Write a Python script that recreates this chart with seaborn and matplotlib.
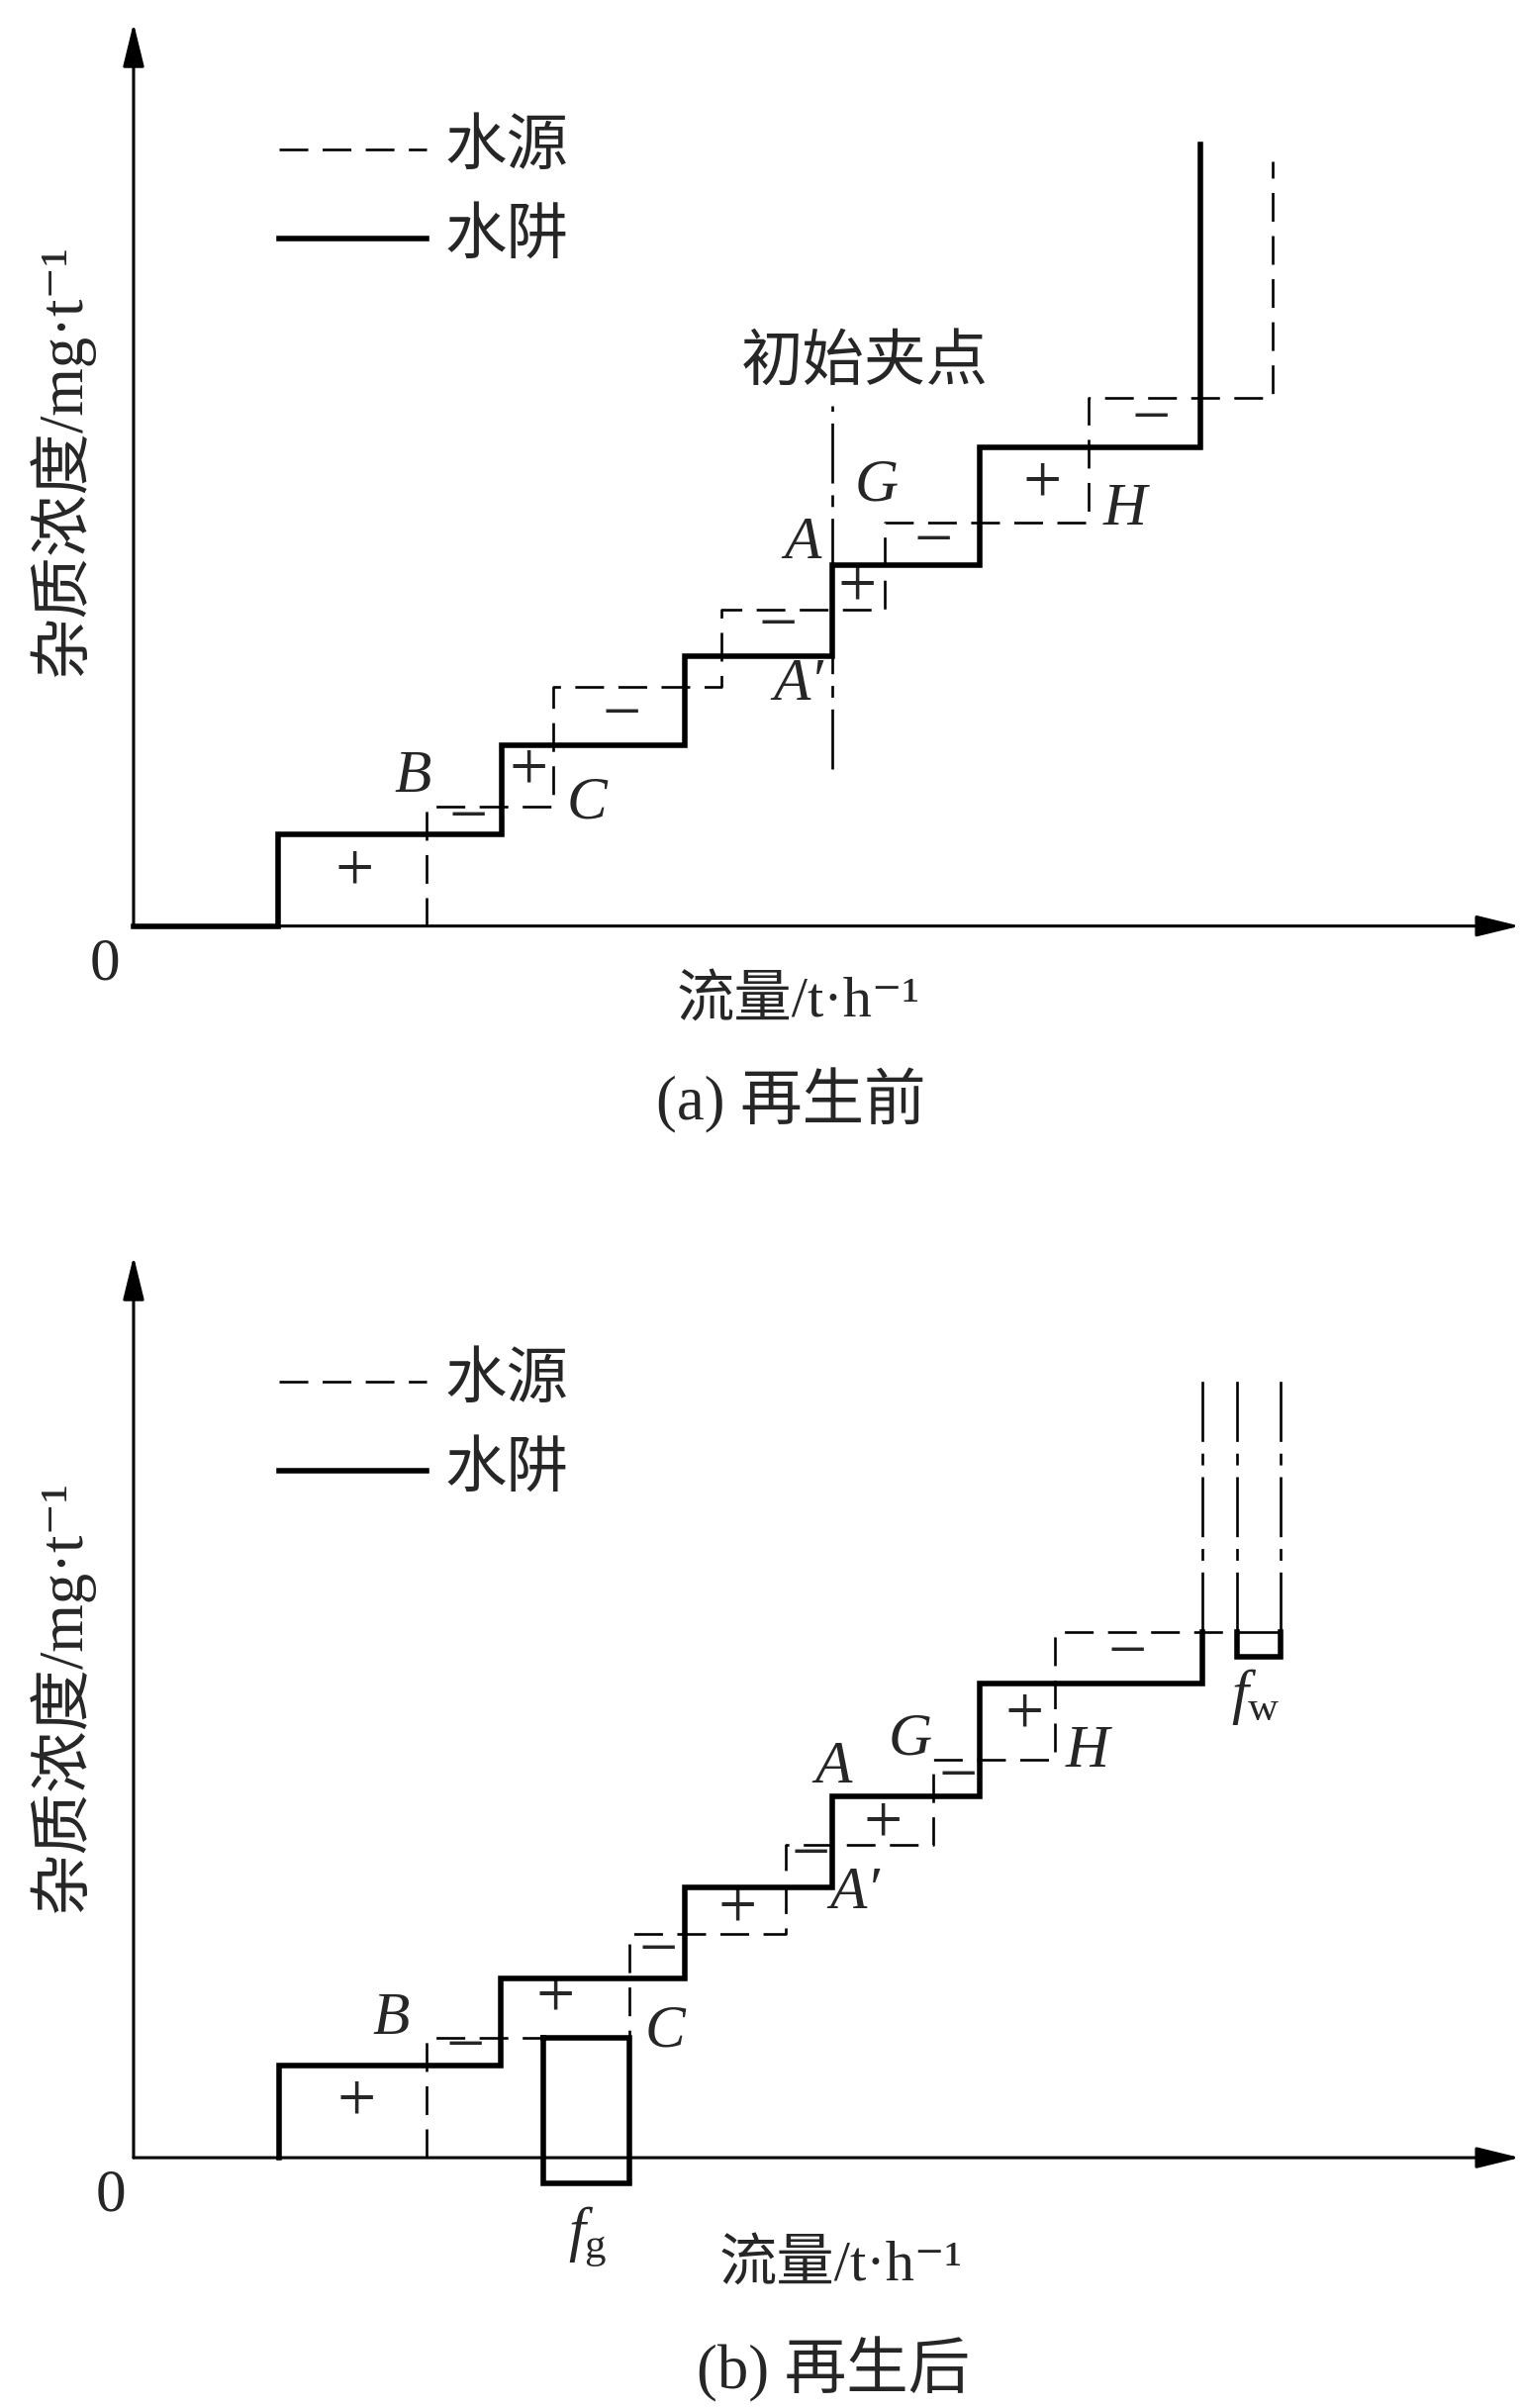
import matplotlib
matplotlib.use("Agg")
import matplotlib.pyplot as plt
import seaborn as sns
import pandas as pd

# ---------------- data (schematic units: flow t/h, concentration mg/t) ----------------
# (a) before regeneration
a_sink_flow = [0.0, 9.4, 24.0, 35.9, 45.5, 55.1, 69.5]
a_sink_conc = [0.0, 6.0, 11.8, 17.6, 23.5, 31.2]
a_sink_top = 50.9
a_src_flow = [0.0, 19.1, 27.3, 38.3, 48.9, 62.2, 74.2]
a_src_conc = [0.0, 7.8, 15.6, 20.6, 26.3, 34.4]
a_src_top = 49.8
a_pinch_flow = 45.5
a_pinch_conc = [10.2, 33.9]
a_sign_text = ["+", "−", "+", "−", "−", "+", "−", "+", "−"]
a_sign_flow = [14.4, 21.8, 25.7, 31.8, 42.0, 47.1, 52.1, 59.2, 66.3]
a_sign_conc = [3.4, 6.9, 10.0, 13.6, 19.4, 21.9, 24.9, 28.7, 32.9]
a_pt_text = ["A", "G", "A′", "H", "B", "C"]
a_pt_flow = [43.6, 48.4, 43.3, 64.6, 18.2, 29.5]
a_pt_conc = [24.9, 28.7, 15.7, 27.1, 9.7, 8.0]

# (b) after regeneration
b_sink_flow = [0.0, 9.5, 23.9, 35.9, 45.5, 55.1, 69.6]
b_sink_conc = [0.0, 6.0, 11.7, 17.6, 23.5, 30.9]
b_sink_top = 34.2
b_src_flow = [0.0, 19.1, 32.3, 42.5, 52.1, 60.0, 71.9]
b_src_conc = [0.0, 7.8, 14.6, 20.4, 25.9, 34.2]
b_fg_flow = [26.7, 32.3]
b_fg_conc = [-1.7, 7.8]
b_fw_flow = [71.9, 74.7]
b_fw_conc = [32.6, 34.2]
b_ext_flow = [69.6, 71.9, 74.7]
b_ext_conc = [34.2, 51.0]
b_sign_text = ["+", "−", "+", "−", "+", "−", "+", "−", "+", "−"]
b_sign_flow = [14.5, 21.6, 27.5, 34.2, 39.3, 44.1, 48.8, 53.7, 58.0, 64.7]
b_sign_conc = [3.5, 7.1, 10.3, 13.3, 16.1, 19.6, 21.6, 24.7, 28.7, 32.7]
b_pt_text = ["B", "C", "A", "G", "H", "A′"]
b_pt_flow = [16.8, 34.6, 45.6, 50.6, 62.1, 47.0]
b_pt_conc = [9.0, 8.2, 25.4, 27.2, 26.4, 17.2]

legend_labels = ["水源", "水阱"]
xlabel = "流量/t·h⁻¹"
ylabel = "杂质浓度/mg·t⁻¹"
captions = ["(a) 再生前", "(b) 再生后"]
pinch_label = "初始夹点"

# ---------------- style ----------------
sns.set_theme(style="white")
FAM = ["Liberation Serif", "Noto Sans CJK SC", "DejaVu Serif", "DejaVu Sans"]
plt.rcParams["font.family"] = FAM
plt.rcParams["mathtext.fontset"] = "custom"
plt.rcParams["mathtext.rm"] = "Liberation Serif"
plt.rcParams["mathtext.it"] = "Liberation Serif:italic"
plt.rcParams["mathtext.bf"] = "Liberation Serif:bold"

LW_SINK = 4.0
LW_SRC = 1.9
LW_AX = 2.2
DASH = (0, (11, 5.5))
DASHDOT = (0, (23, 4.5, 4.5, 4.5))
FS_CJK = 45
FS_LAT = 44
FS_SIGN = 50


def stair(flows, concs, top=None):
    xs, ys = [], []
    for i, c in enumerate(concs):
        xs += [flows[i], flows[i + 1]]
        ys += [c, c]
    if top is not None:
        xs.append(flows[-1])
        ys.append(top)
    return xs, ys


def line(ax, xs, ys, lw, ls="-", z=3):
    df = pd.DataFrame({"x": xs, "y": ys})
    sns.lineplot(data=df, x="x", y="y", ax=ax, sort=False, estimator=None,
                 color="black", lw=lw, linestyle=ls, zorder=z,
                 solid_joinstyle="miter",
                 solid_capstyle="projecting" if ls == "-" else "butt",
                 dash_capstyle="butt")


def axes_arrows(ax, xend, yend):
    style = "-|>,head_length=0.9,head_width=0.22"
    for end in [(xend, 0), (0, yend)]:
        ax.annotate("", xy=end, xytext=(0, 0),
                    arrowprops=dict(arrowstyle=style, lw=LW_AX, color="black",
                                    mutation_scale=30, shrinkA=0, shrinkB=0),
                    zorder=2)


def legend(ax, y_dash, y_solid):
    line(ax, [9.5, 19.1], [y_dash, y_dash], LW_SRC, DASH)
    line(ax, [9.5, 19.1], [y_solid, y_solid], LW_SINK, "-")
    ax.text(20.3, y_dash, legend_labels[0], fontsize=FS_CJK, ha="left", va="center")
    ax.text(20.3, y_solid, legend_labels[1], fontsize=FS_CJK, ha="left", va="center")


def signs(ax, txt, fx, fy):
    for t, x, y in zip(txt, fx, fy):
        ax.text(x, y, t, fontsize=FS_SIGN, ha="center", va="center",
                family=["Liberation Serif", "DejaVu Sans"])


def points(ax, txt, fx, fy):
    for t, x, y in zip(txt, fx, fy):
        ax.text(x, y, t, fontsize=FS_LAT, ha="center", va="center", style="italic",
                family=["Liberation Serif", "DejaVu Serif"])


fig = plt.figure(figsize=(15.39, 24.33), dpi=100)
ax_a = fig.add_axes([0, 1 - 760 / 1568, 1, 760 / 1568])
ax_b = fig.add_axes([0, 0, 1, 808 / 1568])
ax_a.set_xlim(-8.7, 90.5)
ax_a.set_ylim(-15.7, 60.3)
ax_b.set_xlim(-8.7, 90.5)
ax_b.set_ylim(-16.3, 64.5)

# ---------------- panel (a) ----------------
ax = ax_a
axes_arrows(ax, 90.3, 58.8)
xs, ys = stair(a_src_flow, a_src_conc, a_src_top)
line(ax, xs[1:], ys[1:], LW_SRC, DASH)
xs, ys = stair(a_sink_flow, a_sink_conc, a_sink_top)
line(ax, xs, ys, LW_SINK, "-", z=4)
line(ax, [a_pinch_flow, a_pinch_flow], a_pinch_conc, LW_SRC, DASHDOT)
ax.text(47.6, 36.5, pinch_label, fontsize=FS_CJK, ha="center", va="center")
signs(ax, a_sign_text, a_sign_flow, a_sign_conc)
points(ax, a_pt_text, a_pt_flow, a_pt_conc)
legend(ax, 50.6, 44.8)
ax.text(-1.9, -2.5, "0", fontsize=FS_LAT, ha="center", va="center")
ax.text(43.3, -4.9, xlabel, fontsize=42, ha="center", va="center")
ax.text(42.8, -11.4, captions[0], fontsize=FS_CJK, ha="center", va="center")
ax.text(-4.7, 30.3, ylabel, fontsize=FS_CJK, ha="center", va="center", rotation=90)

# ---------------- panel (b) ----------------
ax = ax_b
axes_arrows(ax, 90.3, 58.7)
xs, ys = stair(b_src_flow, b_src_conc)
line(ax, xs[1:], ys[1:], LW_SRC, DASH)
xs, ys = stair(b_sink_flow, b_sink_conc, b_sink_top)
line(ax, xs[1:], ys[1:], LW_SINK, "-", z=4)
# regeneration boxes
fx0, fx1 = b_fg_flow
fy0, fy1 = b_fg_conc
line(ax, [fx0, fx0, fx1, fx1, fx0], [fy1, fy0, fy0, fy1, fy1], LW_SINK, "-", z=4)
wx0, wx1 = b_fw_flow
wy0, wy1 = b_fw_conc
line(ax, [wx0, wx0, wx1, wx1], [wy1, wy0, wy0, wy1], LW_SINK, "-", z=4)
line(ax, [wx0, wx1], [wy1, wy1], LW_SRC, "-", z=4)
for xv in b_ext_flow:
    line(ax, [xv, xv], b_ext_conc, LW_SRC, DASHDOT)
signs(ax, b_sign_text, b_sign_flow, b_sign_conc)
points(ax, b_pt_text, b_pt_flow, b_pt_conc)
ax.text(73.1, 30.0, "$f_{\\mathrm{w}}$", fontsize=FS_LAT, ha="center", va="center")
ax.text(29.6, -5.2, "$f_{\\mathrm{g}}$", fontsize=FS_LAT, ha="center", va="center")
legend(ax, 50.5, 44.7)
ax.text(-1.5, -2.5, "0", fontsize=FS_LAT, ha="center", va="center")
ax.text(46.1, -7.0, xlabel, fontsize=42, ha="center", va="center")
ax.text(45.6, -13.8, captions[1], fontsize=FS_CJK, ha="center", va="center")
ax.text(-4.7, 30.0, ylabel, fontsize=FS_CJK, ha="center", va="center", rotation=90)

for a in (ax_a, ax_b):
    a.axis("off")
    if a.get_legend() is not None:
        a.get_legend().remove()

fig.savefig("out.png", dpi=100, facecolor="white")
